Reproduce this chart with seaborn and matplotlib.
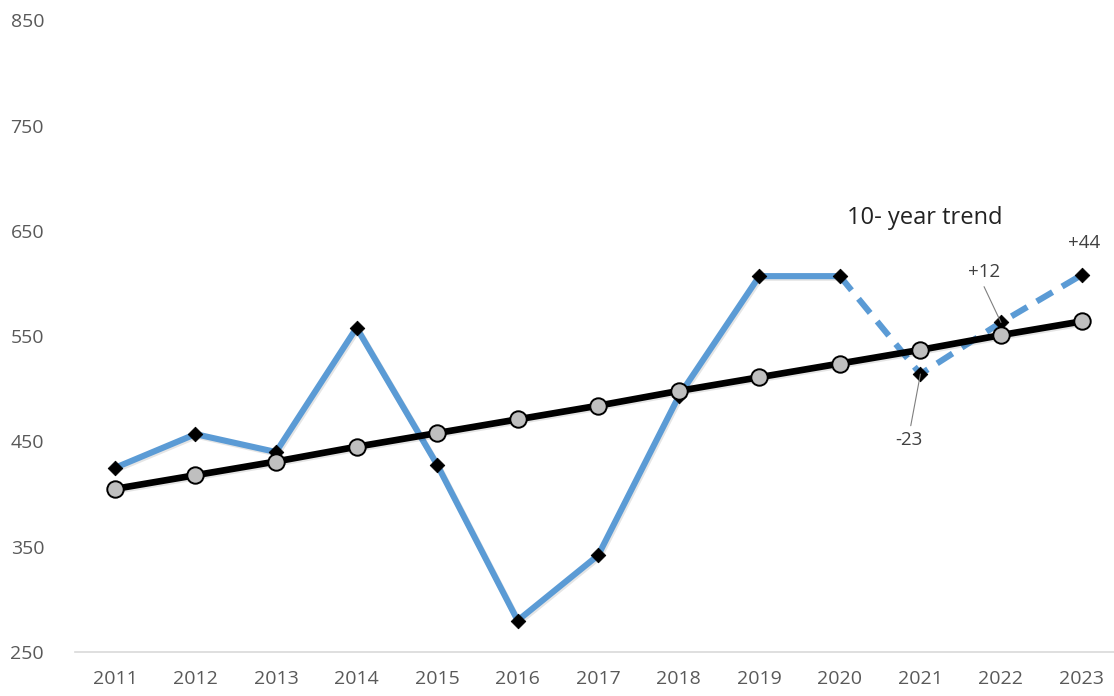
import matplotlib
matplotlib.use("Agg")
import matplotlib.pyplot as plt
import matplotlib.patheffects as pe
import pandas as pd
import seaborn as sns

# data
years = ["2011", "2012", "2013", "2014", "2015", "2016", "2017",
         "2018", "2019", "2020", "2021", "2022", "2023"]
actual = [425, 457, 440, 558, 428, 280, 342, 493, 607, 607, 514, 563, 608]
trend = [405, 418, 431, 445, 458, 471, 484, 498, 511, 524, 537, 551, 564]
y_ticks = [250, 350, 450, 550, 650, 750, 850]

df = pd.DataFrame({"year": years, "pos": range(len(years)),
                   "actual": actual, "trend": trend})
solid = df[df["pos"] <= 9]
dashed = df[df["pos"] >= 9]

sns.set_style("white")
plt.rcParams["font.family"] = ["Open Sans", "DejaVu Sans"]

fig = plt.figure(figsize=(11.14, 6.96), dpi=100)
ax = fig.add_axes([0.067, 0.063, 0.94, 0.908])

blue = "#5B9BD5"
shadow = [pe.SimpleLineShadow(offset=(1, -1.2), alpha=0.1), pe.Normal()]

sns.lineplot(data=solid, x="pos", y="actual", ax=ax, color=blue,
             linewidth=4.4, zorder=2, path_effects=shadow)
sns.lineplot(data=dashed, x="pos", y="actual", ax=ax, color=blue,
             linewidth=4.4, zorder=2)
ax.lines[-1].set_linestyle((0, (3, 1.8)))
sns.scatterplot(data=df, x="pos", y="actual", ax=ax, marker="D", s=55,
                color="black", edgecolor="black", zorder=3)

sns.lineplot(data=df, x="pos", y="trend", ax=ax, color="black",
             linewidth=4.8, zorder=4, path_effects=shadow)
sns.scatterplot(data=df, x="pos", y="trend", ax=ax, marker="o", s=140,
                color="#BFBFBF", edgecolor="black", linewidth=1.4, zorder=5)

# annotations
ax.text(10.05, 662, "10- year trend", fontsize=17, color="#222222",
        ha="center", va="center")
ax.text(12.03, 638, "+44", fontsize=13.5, color="#404040", ha="center", va="center")
ax.text(10.79, 611, "+12", fontsize=13.5, color="#404040", ha="center", va="center")
ax.text(9.86, 451, "-23", fontsize=13.5, color="#404040", ha="center", va="center")
ax.plot([10.79, 11.0], [597, 563], color="#7f7f7f", linewidth=0.8, zorder=6)
ax.plot([9.88, 10.0], [465, 514], color="#7f7f7f", linewidth=0.8, zorder=6)

ax.set_xlim(-0.5, 12.45)
ax.set_ylim(250, 850)
ax.set_xticks(range(len(years)))
ax.set_xticklabels(years)
ax.set_xticks([i - 0.5 for i in range(len(years) + 1)], minor=True)
ax.set_yticks(y_ticks)
ax.set_xlabel("")
ax.set_ylabel("")
ax.grid(False)

for side in ["top", "right", "left"]:
    ax.spines[side].set_visible(False)
ax.spines["bottom"].set_color("#D9D9D9")
ax.spines["bottom"].set_linewidth(1.2)
ax.tick_params(axis="x", which="major", length=0, pad=13,
               labelsize=14, labelcolor="#595959")
ax.tick_params(axis="x", which="minor", direction="in", length=6,
               color="#D9D9D9", width=1.2)
ax.tick_params(axis="y", length=0, pad=22, labelsize=14, labelcolor="#595959")

fig.savefig("out.png", dpi=100)
